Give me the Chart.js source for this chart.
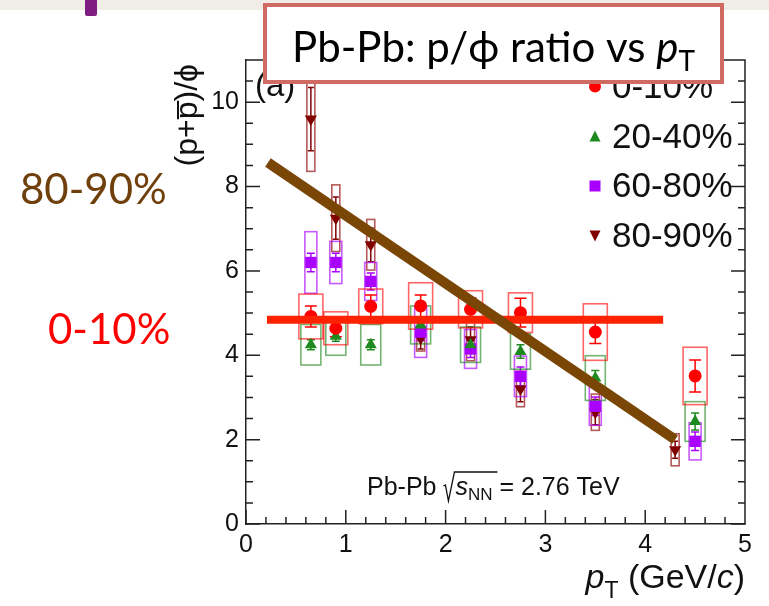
<!DOCTYPE html>
<html>
<head>
<meta charset="utf-8">
<script src="https://cdn.jsdelivr.net/npm/chart.js@4.4.1/dist/chart.umd.min.js"></script>
<style>
  html, body { margin: 0; padding: 0; background: #fff; }
  #wrap { width: 769px; height: 606px; }
</style>
</head>
<body>
<div id="wrap"><canvas id="chart" width="769" height="606"></canvas></div>
<script>
// pT (GeV/c) bin centres
const ptBins = [0.65, 0.9, 1.25, 1.75, 2.25, 2.75, 3.5, 4.5];
const ptBins8090 = [0.65, 0.9, 1.25, 1.75, 2.25, 2.75, 3.5, 4.3];

// (p+pbar)/phi, stat and syst errors
const ratio0010 = [4.92, 4.64, 5.16, 5.17, 5.09, 5.01, 4.55, 3.51];
const stat0010 = [0.25, 0.2, 0.27, 0.26, 0.27, 0.34, 0.27, 0.38];
const sys0010 = [0.53, 0.39, 0.41, 0.55, 0.44, 0.47, 0.67, 0.68];

const ratio2040 = [4.25, 4.45, 4.25, 4.72, 4.25, 4.09, 3.46, 2.43];
const stat2040 = [0.12, 0.12, 0.12, 0.14, 0.14, 0.16, 0.18, 0.2];
const sys2040 = [0.48, 0.45, 0.48, 0.45, 0.42, 0.42, 0.53, 0.47];

const ratio6080 = [6.2, 6.2, 5.75, 4.55, 4.15, 3.5, 2.79, 1.96];
const stat6080 = [0.22, 0.22, 0.2, 0.2, 0.2, 0.22, 0.22, 0.22];
const sys6080 = [0.73, 0.5, 0.45, 0.6, 0.46, 0.48, 0.45, 0.44];

const ratio8090 = [9.6, 7.25, 6.62, 4.4, 4.37, 3.2, 2.65, 1.76];
const stat8090 = [0.75, 0.5, 0.4, 0.25, 0.3, 0.3, 0.3, 0.2];
const sys8090 = [1.24, 0.79, 0.6, 0.3, 0.5, 0.42, 0.43, 0.38];

// hand-drawn guide lines
const flatLineX = [0.21, 4.18];
const flatLineY = [4.84, 4.84];
const trendLineX = [0.22, 4.3];
const trendLineY = [8.57, 2.0];

// axis ticks
const xTickStep = 1;
const yTickStep = 2;

function makePoints(xs, ys) {
    return xs.map((x, i) => ({ x: x, y: ys[i] }));
}

const series = [
    { label: '0-10%', x: ptBins, y: ratio0010, stat: stat0010, sys: sys0010,
      color: '#ff0000', boxColor: 'rgba(255,0,0,0.6)', boxW: 24, capW: 12, style: 'circle', radius: 6.5, rot: 0 },
    { label: '20-40%', x: ptBins, y: ratio2040, stat: stat2040, sys: sys2040,
      color: '#1f8a1f', boxColor: 'rgba(20,130,20,0.6)', boxW: 20, capW: 8, style: 'triangle', radius: 7, rot: 0 },
    { label: '60-80%', x: ptBins, y: ratio6080, stat: stat6080, sys: sys6080,
      color: '#aa00ff', boxColor: 'rgba(170,0,255,0.65)', boxW: 12, capW: 8, style: 'rect', radius: 8, rot: 0 },
    { label: '80-90%', x: ptBins8090, y: ratio8090, stat: stat8090, sys: sys8090,
      color: '#800000', boxColor: 'rgba(140,0,0,0.65)', boxW: 8, capW: 6, style: 'triangle', radius: 7, rot: 180 }
];

// систематика (коробки) и статистика (усы)
const errorPlugin = {
    id: 'errorBoxes',
    beforeDatasetsDraw(chart) {
        const ctx = chart.ctx;
        const xs = chart.scales.x, ys = chart.scales.y;
        const area = chart.chartArea;
        ctx.save();
        ctx.beginPath();
        ctx.rect(area.left, area.top, area.right - area.left, area.bottom - area.top);
        ctx.clip();
        for (let di = chart.data.datasets.length - 1; di >= 0; di--) {
            const ds = chart.data.datasets[di];
            if (!ds.errSys) continue;
            ds.data.forEach((p, i) => {
                const px = xs.getPixelForValue(p.x);
                const top = ys.getPixelForValue(p.y + ds.errSys[i]);
                const bot = ys.getPixelForValue(p.y - ds.errSys[i]);
                ctx.strokeStyle = ds.boxColor;
                ctx.lineWidth = 1.6;
                ctx.strokeRect(px - ds.boxW / 2, top, ds.boxW, bot - top);
                const st = ys.getPixelForValue(p.y + ds.errStat[i]);
                const sb = ys.getPixelForValue(p.y - ds.errStat[i]);
                ctx.strokeStyle = ds.borderColor;
                ctx.lineWidth = 1.5;
                ctx.beginPath();
                ctx.moveTo(px, st); ctx.lineTo(px, sb);
                ctx.moveTo(px - ds.capW / 2, st); ctx.lineTo(px + ds.capW / 2, st);
                ctx.moveTo(px - ds.capW / 2, sb); ctx.lineTo(px + ds.capW / 2, sb);
                ctx.stroke();
            });
        }
        ctx.restore();
    }
};

function drawMarker(ctx, s, x, y) {
    ctx.fillStyle = s.color;
    ctx.beginPath();
    if (s.style === 'circle') {
        ctx.arc(x, y, 6, 0, Math.PI * 2);
    } else if (s.style === 'rect') {
        ctx.rect(x - 5.5, y - 5.5, 11, 11);
    } else if (s.rot === 180) {
        ctx.moveTo(x - 5.5, y - 5); ctx.lineTo(x + 5.5, y - 5); ctx.lineTo(x, y + 6);
    } else {
        ctx.moveTo(x - 5.5, y + 5); ctx.lineTo(x + 5.5, y + 5); ctx.lineTo(x, y - 6);
    }
    ctx.closePath();
    ctx.fill();
}

// рамка, засечки внутрь, подписи, легенда, заголовок
const decorPlugin = {
    id: 'decor',
    beforeDraw(chart) {
        const ctx = chart.ctx;
        ctx.save();
        ctx.fillStyle = '#ffffff';
        ctx.fillRect(0, 0, chart.width, chart.height);
        ctx.fillStyle = '#efede6';
        ctx.fillRect(0, 0, chart.width, 10);
        ctx.fillStyle = '#7d1e80';
        ctx.beginPath();
        ctx.roundRect(85, -4, 12, 20, 2);
        ctx.fill();
        ctx.restore();
    },
    afterDraw(chart) {
        const ctx = chart.ctx;
        const xs = chart.scales.x, ys = chart.scales.y;
        const a = chart.chartArea;
        ctx.save();
        ctx.strokeStyle = '#222';
        ctx.lineWidth = 1.5;
        ctx.beginPath();
        ctx.moveTo(a.left, a.top); ctx.lineTo(a.right, a.top); ctx.lineTo(a.right, a.bottom);
        // засечки по Y (слева и справа)
        for (let v = 0; v <= ys.max + 1e-6; v += 0.5) {
            const py = ys.getPixelForValue(v);
            const len = Math.abs(v % yTickStep) < 1e-6 ? 14 : 7;
            ctx.moveTo(a.left, py); ctx.lineTo(a.left + len, py);
            ctx.moveTo(a.right, py); ctx.lineTo(a.right - len, py);
        }
        // засечки по X
        for (let k = 0; k <= 25; k++) {
            const v = k * 0.2;
            const px = xs.getPixelForValue(v);
            const len = k % 5 === 0 ? 14 : 7;
            ctx.moveTo(px, a.bottom); ctx.lineTo(px, a.bottom - len);
        }
        ctx.stroke();

        // "(a)"
        ctx.fillStyle = '#111';
        ctx.font = '33px "Liberation Sans"';
        ctx.textAlign = 'left';
        ctx.textBaseline = 'alphabetic';
        ctx.fillText('(a)', 255, 96);

        // легенда
        const rows = [97.5, 147.5, 197, 246.5];
        ctx.font = '35px "Liberation Sans"';
        series.forEach((s, i) => {
            drawMarker(ctx, s, 595, rows[i] - 11);
            ctx.fillStyle = '#111';
            ctx.fillText(s.label, 612, rows[i]);
        });

        // энергия
        ctx.font = '25px "Liberation Sans"';
        let x = 367;
        const by = 495;
        ctx.fillText('Pb-Pb', x, by);
        x += ctx.measureText('Pb-Pb ').width;
        ctx.lineWidth = 1.3;
        ctx.strokeStyle = '#111';
        ctx.beginPath();
        ctx.moveTo(x, by - 9); ctx.lineTo(x + 2, by - 10);
        ctx.lineTo(x + 5, by + 6); ctx.lineTo(x + 11, by - 23);
        ctx.lineTo(x + 54, by - 23);
        ctx.stroke();
        x += 12;
        ctx.font = 'italic 25px "Liberation Sans"';
        ctx.fillText('s', x, by);
        x += ctx.measureText('s').width;
        ctx.font = '17px "Liberation Sans"';
        ctx.fillText('NN', x, by + 5);
        x += ctx.measureText('NN').width;
        ctx.font = '25px "Liberation Sans"';
        ctx.fillText(' = 2.76 TeV', x, by);

        // подпись оси X
        ctx.font = '34px "Liberation Sans"';
        const tail = ' (GeV/';
        const wTail = ctx.measureText(tail).width;
        const wClose = ctx.measureText(')').width;
        ctx.font = 'italic 34px "Liberation Sans"';
        const wc = ctx.measureText('c').width;
        const wp = ctx.measureText('p').width;
        ctx.font = '23px "Liberation Sans"';
        const wT = ctx.measureText('T').width;
        let ax = 745 - (wp + wT + wTail + wc + wClose);
        const ay = 588;
        ctx.font = 'italic 34px "Liberation Sans"';
        ctx.fillText('p', ax, ay); ax += wp;
        ctx.font = '23px "Liberation Sans"';
        ctx.fillText('T', ax, ay + 10); ax += wT;
        ctx.font = '34px "Liberation Sans"';
        ctx.fillText(tail, ax, ay); ax += wTail;
        ctx.font = 'italic 34px "Liberation Sans"';
        ctx.fillText('c', ax, ay); ax += wc;
        ctx.font = '34px "Liberation Sans"';
        ctx.fillText(')', ax, ay);

        // подпись оси Y
        ctx.save();
        ctx.translate(197, 64);
        ctx.rotate(-Math.PI / 2);
        ctx.textAlign = 'right';
        ctx.font = '32px "Liberation Sans"';
        ctx.fillText('(p+p\u0305)/\u03d5', 0, 0);
        ctx.restore();

        // подписи слева
        ctx.font = '42px Lato';
        ctx.fillStyle = '#6f3f0c';
        ctx.fillText('80-90%', 20, 204);
        ctx.fillStyle = '#ff0000';
        ctx.fillText('0-10%', 48, 344);

        // заголовок в рамке
        ctx.fillStyle = '#ffffff';
        ctx.fillRect(265, 5, 457, 77);
        ctx.strokeStyle = '#cf6b63';
        ctx.lineWidth = 4;
        ctx.strokeRect(265, 5, 457, 77);
        ctx.fillStyle = '#000';
        const t1 = 'Pb-Pb: p/\u03d5 ratio vs ';
        ctx.font = '42px Lato';
        const w1 = ctx.measureText(t1).width;
        ctx.font = 'italic 42px Lato';
        const w2 = ctx.measureText('p').width;
        ctx.font = '28px Lato';
        const w3 = ctx.measureText('T').width;
        let tx = 493.5 - (w1 + w2 + w3) / 2;
        ctx.font = '42px Lato';
        ctx.fillText(t1, tx, 62); tx += w1;
        ctx.font = 'italic 42px Lato';
        ctx.fillText('p', tx, 62); tx += w2;
        ctx.font = '28px Lato';
        ctx.fillText('T', tx, 71);
        ctx.restore();
    }
};

const datasets = [
    { type: 'line', label: 'trend', data: makePoints(trendLineX, trendLineY),
      borderColor: '#7a4606', borderWidth: 10, pointRadius: 0, borderCapStyle: 'butt', order: 0 },
    { type: 'line', label: 'flat', data: makePoints(flatLineX, flatLineY),
      borderColor: '#ff2200', borderWidth: 8, pointRadius: 0, borderCapStyle: 'butt', order: 1 }
].concat(series.map((s, i) => ({
    type: 'scatter',
    label: s.label,
    data: makePoints(s.x, s.y),
    pointStyle: s.style,
    pointRadius: s.radius,
    pointRotation: s.rot,
    backgroundColor: s.color,
    borderColor: s.color,
    borderWidth: 0,
    order: 2 + i,
    errStat: s.stat,
    errSys: s.sys,
    boxColor: s.boxColor,
    boxW: s.boxW,
    capW: s.capW
})));

new Chart(document.getElementById('chart').getContext('2d'), {
    type: 'scatter',
    data: { datasets: datasets },
    options: {
        responsive: false,
        animation: false,
        devicePixelRatio: 1,
        layout: { padding: { left: 0, top: 60, right: 24, bottom: 0 } },
        plugins: {
            legend: { display: false },
            tooltip: { enabled: false }
        },
        scales: {
            x: {
                type: 'linear',
                min: 0,
                max: 5,
                afterFit: (scale) => { scale.height = 82; },
                grid: { display: false, drawTicks: false },
                border: { display: true, color: '#222', width: 1.5 },
                ticks: {
                    stepSize: xTickStep,
                    padding: 6,
                    color: '#111',
                    font: { family: 'Liberation Sans', size: 25 }
                }
            },
            y: {
                type: 'linear',
                min: 0,
                max: 11,
                afterFit: (scale) => { scale.width = 246; },
                grid: { display: false, drawTicks: false },
                border: { display: true, color: '#222', width: 1.5 },
                ticks: {
                    stepSize: yTickStep,
                    padding: 7,
                    color: '#111',
                    font: { family: 'Liberation Sans', size: 25 },
                    callback: (v) => (v % yTickStep === 0 ? v : null)
                }
            }
        }
    },
    plugins: [errorPlugin, decorPlugin]
});
</script>
</body>
</html>
